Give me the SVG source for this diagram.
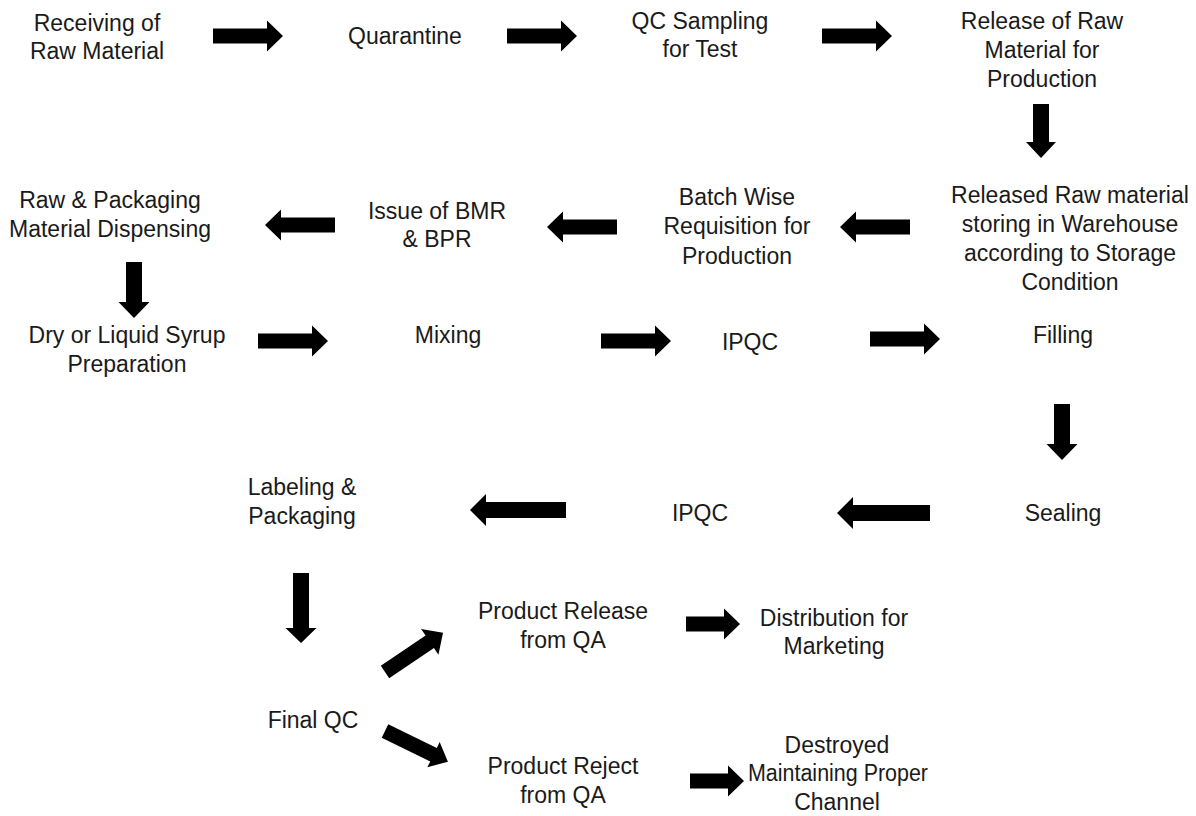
<svg xmlns="http://www.w3.org/2000/svg" width="1196" height="816" viewBox="0 0 1196 816">
<style>
text{font-family:"Liberation Sans",Arial,sans-serif;font-size:23px;fill:#1a1a1a;text-anchor:middle}
.ar{fill:#000}
</style>
<rect width="1196" height="816" fill="#fff"/>
<g id="n1"><text x="97" y="31">Receiving of</text><text x="97" y="59">Raw Material</text></g>
<g id="n2"><text x="405" y="44">Quarantine</text></g>
<g id="n3"><text x="700" y="29">QC Sampling</text><text x="700" y="57">for Test</text></g>
<g id="n4"><text x="1042" y="29">Release of Raw</text><text x="1042" y="58">Material for</text><text x="1042" y="87">Production</text></g>
<g id="n5"><text x="1070" y="203">Released Raw material</text><text x="1070" y="232">storing in Warehouse</text><text x="1070" y="261">according to Storage</text><text x="1070" y="290">Condition</text></g>
<g id="n6"><text x="737" y="205">Batch Wise</text><text x="737" y="234">Requisition for</text><text x="737" y="264">Production</text></g>
<g id="n7"><text x="437" y="219">Issue of BMR</text><text x="437" y="247">&amp; BPR</text></g>
<g id="n8"><text x="110" y="208">Raw &amp; Packaging</text><text x="110" y="237">Material Dispensing</text></g>
<g id="n9"><text x="127" y="343">Dry or Liquid Syrup</text><text x="127" y="372">Preparation</text></g>
<g id="n10"><text x="448" y="343">Mixing</text></g>
<g id="n11"><text x="750" y="350">IPQC</text></g>
<g id="n12"><text x="1063" y="343">Filling</text></g>
<g id="n13"><text x="1063" y="521">Sealing</text></g>
<g id="n14"><text x="700" y="521">IPQC</text></g>
<g id="n15"><text x="302" y="495">Labeling &amp;</text><text x="302" y="524">Packaging</text></g>
<g id="n16"><text x="313" y="728">Final QC</text></g>
<g id="n17"><text x="563" y="619">Product Release</text><text x="563" y="648">from QA</text></g>
<g id="n18"><text x="834" y="626">Distribution for</text><text x="834" y="654">Marketing</text></g>
<g id="n19"><text x="563" y="774">Product Reject</text><text x="563" y="803">from QA</text></g>
<g id="n20"><text x="837" y="753">Destroyed</text><text x="838" y="781" textLength="180" lengthAdjust="spacingAndGlyphs">Maintaining Proper</text><text x="837" y="810">Channel</text></g>
<g id="connectors" class="ar">
<polygon transform="translate(213,36)" points="0,-7.5 54,-7.5 54,-15.5 70,0 54,15.5 54,7.5 0,7.5"/>
<polygon transform="translate(507,36)" points="0,-7.5 54,-7.5 54,-15.5 70,0 54,15.5 54,7.5 0,7.5"/>
<polygon transform="translate(822,36)" points="0,-7.5 54,-7.5 54,-15.5 70,0 54,15.5 54,7.5 0,7.5"/>
<polygon transform="translate(1041,104) rotate(90)" points="0,-8 38,-8 38,-15 54,0 38,15 38,8 0,8"/>
<polygon transform="translate(910,227) rotate(180)" points="0,-7.5 54,-7.5 54,-15.5 70,0 54,15.5 54,7.5 0,7.5"/>
<polygon transform="translate(617,227) rotate(180)" points="0,-7.5 54,-7.5 54,-15.5 70,0 54,15.5 54,7.5 0,7.5"/>
<polygon transform="translate(335,225) rotate(180)" points="0,-7.5 54,-7.5 54,-15.5 70,0 54,15.5 54,7.5 0,7.5"/>
<polygon transform="translate(134,262) rotate(90)" points="0,-8 40,-8 40,-15.5 56,0 40,15.5 40,8 0,8"/>
<polygon transform="translate(258,341)" points="0,-7.5 54,-7.5 54,-15.5 70,0 54,15.5 54,7.5 0,7.5"/>
<polygon transform="translate(601,341)" points="0,-7.5 54,-7.5 54,-15.5 70,0 54,15.5 54,7.5 0,7.5"/>
<polygon transform="translate(870,339)" points="0,-7.5 54,-7.5 54,-15.5 70,0 54,15.5 54,7.5 0,7.5"/>
<polygon transform="translate(1062,404) rotate(90)" points="0,-8 40,-8 40,-15.5 56,0 40,15.5 40,8 0,8"/>
<polygon transform="translate(930,513) rotate(180)" points="0,-8 77,-8 77,-16 93,0 77,16 77,8 0,8"/>
<polygon transform="translate(566,510) rotate(180)" points="0,-8 80,-8 80,-16 96,0 80,16 80,8 0,8"/>
<polygon transform="translate(301,573) rotate(90)" points="0,-8 55,-8 55,-15.5 70,0 55,15.5 55,8 0,8"/>
<polygon transform="translate(385,672) rotate(-34)" points="0,-7.5 54,-7.5 54,-15.5 70,0 54,15.5 54,7.5 0,7.5"/>
<polygon transform="translate(686,624)" points="0,-7.5 38,-7.5 38,-15.5 54,0 38,15.5 38,7.5 0,7.5"/>
<polygon transform="translate(385,731) rotate(26)" points="0,-7.5 54,-7.5 54,-14 70,0 54,14 54,7.5 0,7.5"/>
<polygon transform="translate(690,781)" points="0,-7.5 38,-7.5 38,-15.5 54,0 38,15.5 38,7.5 0,7.5"/>
</g>
</svg>
